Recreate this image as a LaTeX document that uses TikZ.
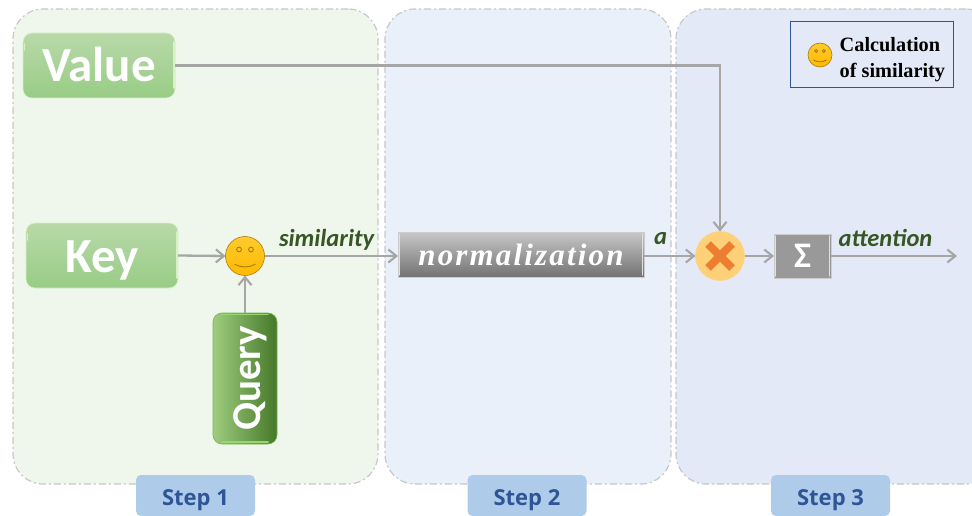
\documentclass[tikz,border=0pt]{standalone}
\usepackage{fontspec}
\setmainfont{Liberation Serif}
\newfontfamily\carlito{Carlito}
\newfontfamily\stepfont{Open Sans}
\newfontfamily\normfont[LetterSpace=7]{Liberation Serif}
\usetikzlibrary{arrows.meta,calc}
\definecolor{labgreen}{HTML}{375623}
\definecolor{conn}{HTML}{A6A6A6}
\definecolor{stepblue}{HTML}{AECCE9}
\definecolor{stepink}{HTML}{2F5597}
\definecolor{smileedge}{HTML}{A87D0C}
\definecolor{smiletop}{HTML}{FFCB2E}
\definecolor{smilebot}{HTML}{FFB900}
\definecolor{gv}{HTML}{98CC86}
\definecolor{gvtop}{HTML}{B9D9A8}
\definecolor{rimv}{HTML}{D5F2C4}
\definecolor{qlight}{HTML}{9ECD7E}
\definecolor{qdark}{HTML}{46782A}
\definecolor{qedge}{HTML}{78B455}
\definecolor{qrim}{HTML}{96D76E}
\definecolor{pone}{HTML}{EFF6EC}
\definecolor{ptwo}{HTML}{E9F0F9}
\definecolor{pthree}{HTML}{E3E9F6}
\definecolor{legedge}{HTML}{2E5496}
\definecolor{multfill}{HTML}{FED078}
\definecolor{multedge}{HTML}{FAD78C}
\definecolor{crossc}{HTML}{ED7D31}
\tikzset{
  x=1pt,y=-1pt,
  panel/.style={draw=black!22,line width=1.2pt,dash pattern=on 7pt off 3pt on 2pt off 3pt,rounded corners=30pt,
    inner sep=0,outer sep=0,anchor=north west,minimum height=475pt},
  conbox/.style={rounded corners=9pt,inner sep=0,outer sep=0,text=white,minimum width=152pt,minimum height=65pt,
    text height=33pt,text depth=0pt,
    font=\carlito\bfseries\fontsize{49}{49}\selectfont,top color=gvtop,bottom color=gv,draw=rimv,line width=.6pt},
  graybox/.style={inner sep=0,outer sep=0,text=white,draw=black!20,line width=1pt},
  stepbox/.style={fill=stepblue,rounded corners=5pt,inner sep=0,outer sep=0,minimum width=119pt,minimum height=41pt},
  steptext/.style={text=stepink,font=\stepfont\bfseries\fontsize{22}{22}\selectfont,inner sep=0},
  smile/.style={circle,inner sep=0,outer sep=0,draw=smileedge,line width=.6pt,top color=smiletop,bottom color=smilebot},
  conline/.style={draw=conn,line width=2.3pt},
  conarrow/.style={conline,-{Straight Barb[length=8pt,width=13pt,line width=2.1pt]}},
  lab/.style={text=labgreen,font=\carlito\bfseries\itshape\fontsize{24.5}{24.5}\selectfont,inner sep=0},
  rim/.style={draw=#1,line width=1.6pt,line cap=round},
  facedetail/.style={draw=smileedge,line width=.9pt},
}
\newcommand{\faceon}[2]{%
  \begin{scope}[shift={(#1)},scale=#2]
    \draw[facedetail] (-6,-6.5) circle (2.4);
    \draw[facedetail] (6,-6.5) circle (2.4);
    \draw[facedetail] (-10.5,8) .. controls (-4,12) and (4,12) .. (10.5,8);
  \end{scope}}
\begin{document}
\begin{tikzpicture}
\useasboundingbox (0,0) rectangle (972,516);
\begin{scope}
\clip (0,0) rectangle (972,516);
% panels
\node[panel,fill=pone,minimum width=365pt] (p1) at (13,9) {};
\node[panel,fill=ptwo,minimum width=286pt] (p2) at (385,9) {};
\node[panel,fill=pthree,minimum width=320pt] (p3) at (676,9) {};
% step tabs
\node[stepbox] (s1) at (195.5,495.5) {};
\node[stepbox] (s2) at (527,495.5) {};
\node[stepbox] (s3) at (830.5,495.5) {};
\node[steptext,anchor=base] (t1) at (195.5,505) {Step 1};
\node[steptext,anchor=base] (t2) at (527,505) {Step 2};
\node[steptext,anchor=base] (t3) at (830.5,505) {Step 3};
% value, key, query
\node[conbox] (value) at (99,65.5) {Value};
\node[conbox] (key) at (102,255.5) {Key};
\node[rounded corners=9pt,inner sep=0,outer sep=0,text=white,rotate=90,
  left color=qlight,right color=qdark,draw=qedge,line width=.6pt,text height=30pt,text depth=0pt,
  font=\carlito\bfseries\fontsize{41}{41}\selectfont,minimum width=131pt,minimum height=64pt] (query) at (245,378.5) {Query};
% rims
\draw[rim=rimv] (24.5,44) -- (24.5,50);
\draw[rim=rimv] (174,42) -- (174,88);
\draw[rim=rimv] (27.5,234) -- (27.5,240);
\draw[rim=rimv] (177,232) -- (177,278);
\draw[rim=qrim] (222,314.5) -- (268,314.5);
\draw[rim=qrim] (222,442) -- (268,442);
% faces
\node[smile,minimum size=39pt] (sim) at (245,256) {};
\faceon{245,256}{1}
\node[draw=legedge,line width=1pt,inner sep=0,outer sep=0,minimum width=163pt,minimum height=66pt] (legend) at (871.5,55) {};
\node[smile,minimum size=24pt] (legface) at (820,55) {};
\faceon{820,55}{0.62}
\node[anchor=west,align=left,inner sep=0,font=\bfseries\fontsize{20.3}{26}\selectfont] (legtext) at (839.5,59.5) {Calculation\\of similarity};
% normalization
\node[graybox,top color=black!22,bottom color=black!55,minimum width=246pt,minimum height=45pt,
  font=\normfont\bfseries\itshape\fontsize{31}{31}\selectfont] (norm) at (521,254.5) {normalization};
\draw[rim=black!12,line width=1.2pt] (399.5,234) -- (399.5,275);
\draw[rim=black!12,line width=1.2pt] (642.5,234) -- (642.5,275);
% multiply
\node[circle,inner sep=0,outer sep=0,minimum size=49pt,fill=multfill,draw=multedge,line width=.6pt] (mult) at (720,256) {};
\draw[draw=crossc,line width=8pt] (708,244) -- (732,268) (732,244) -- (708,268);
% sum
\node[graybox,fill=black!40,minimum width=57pt,minimum height=44pt,font=\carlito\bfseries\fontsize{36}{36}\selectfont] (sum) at (802.5,256) {\char"03A3};
\draw[rim=black!12,line width=1.2pt] (775.5,236) -- (775.5,276);
\draw[rim=black!12,line width=1.2pt] (829.5,236) -- (829.5,276);
% connectors
\coordinate (bend) at (mult.north |- value.east);
\coordinate (out) at (957,256);
\draw[conarrow] (value.east) -- (bend) -- (mult.north);
\draw[conarrow] (key.east) -- (sim.west);
\draw[conarrow] (query.east) -- (sim.south);
\draw[conarrow] (sim.east) -- (norm.west |- sim.east);
\draw[conarrow] (norm.east |- mult.west) -- (mult.west);
\draw[conarrow] (mult.east) -- (sum.west);
\draw[conarrow] (sum.east) -- (out);
% labels
\node[lab,anchor=base] (lsim) at (326.5,246) {similarity};
\node[lab,anchor=base] (la) at (660.5,244) {a};
\node[lab,anchor=base] (lat) at (885.5,246) {attention};
\end{scope}
\end{tikzpicture}
\end{document}
